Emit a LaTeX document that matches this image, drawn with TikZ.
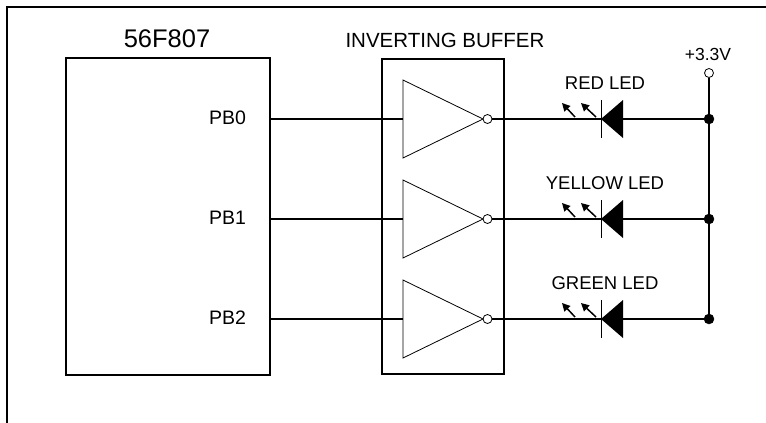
\documentclass[tikz,border=0pt]{standalone}
\usepackage{fontspec}
\setmainfont{Liberation Sans}
\usepackage{tikz}
\usetikzlibrary{arrows.meta,calc}
\tikzset{wire/.style={line width=1.6pt},
         box/.style={draw,line width=1.6pt,inner sep=0pt},
         lbl/.style={font=\fontsize{18.5}{20}\selectfont},
         lightarrow/.style={line width=1.5pt,-{Triangle[length=8pt,width=8pt]}}}

\begin{document}
\begin{tikzpicture}[x=1pt,y=-1pt]
\useasboundingbox (0,0) rectangle (766,423);
\draw[line width=2pt] (7,423) -- (7,7) -- (766,7);

% the controller and the buffer
\node[box,anchor=north west,minimum width=204pt,minimum height=317pt] (chip) at (65,57) {};
\node[box,anchor=north west,minimum width=122pt,minimum height=315pt] (buffer) at (381,58) {};
\node[font=\fontsize{25.5}{28}\selectfont] (chipname) at (167,39) {56F807};
\node[font=\fontsize{20.5}{22}\selectfont] (buffername) at (445,40.5) {INVERTING BUFFER};

% supply rail
\node[draw,circle,line width=0.8pt,inner sep=0pt,minimum size=9pt] (vcc) at (709,73) {};
\node[font=\fontsize{17.5}{19}\selectfont] (vcclabel) at (708,54) {+3.3V};
\coordinate (railend) at (709,319);
\draw[line width=1.1pt] (vcc.south) -- (railend);

\foreach \y/\n/\col in {119/0/RED,219/1/YELLOW,319/2/GREEN}
{
\node[font=\fontsize{19.5}{21}\selectfont,anchor=east] (pb\n) at (249.5,\y-1) {PB\n};
% inverter
\coordinate (in\n) at (403,\y);
\draw[line width=0.8pt] (403,\y-39) -- (483,\y) -- (403,\y+39) -- cycle;
\node[draw,circle,line width=0.8pt,inner sep=0pt,minimum size=9pt] (inv\n) at (487.5,\y) {};
\draw[wire] (chip.east |- in\n) -- (in\n);
% led
\coordinate (rail\n) at (709,\y);
\coordinate (k\n) at (601,\y);
\draw[wire] (inv\n.east) -- (rail\n);
\fill (k\n) -- (623,\y-19) -- (623,\y+19) -- cycle;
\draw[line width=1pt] (601,\y-19) -- (601,\y+19);
\draw[lightarrow] (575,\y-2) -- (562,\y-16);
\draw[lightarrow] (596,\y-2) -- (581,\y-16);
\node[lbl] (led\n) at (605,\y-36) {\col{} LED};
\filldraw (rail\n) circle (5pt);
}
\end{tikzpicture}
\end{document}
